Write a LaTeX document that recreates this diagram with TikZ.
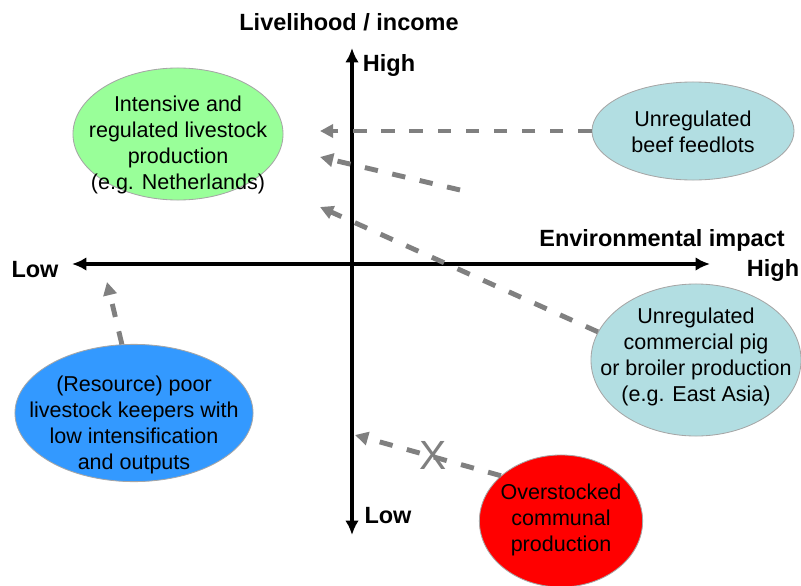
\documentclass[tikz,border=0pt]{standalone}
\usepackage{fontspec}
\setmainfont{Liberation Sans}
\usetikzlibrary{shapes.geometric,arrows.meta}

\definecolor{paleGreen}{RGB}{153,255,153}
\definecolor{paleBlue}{RGB}{178,222,226}
\definecolor{keeperBlue}{RGB}{51,153,255}

\begin{document}
\begin{tikzpicture}[x=0.025cm,y=-0.025cm,
    blob/.style={ellipse,draw=gray!70,line width=0.6pt,inner sep=0pt},
    blobtext/.style={align=center,font=\fontsize{15.3}{18.4}\selectfont},
    axis/.style={line width=2.5pt,{Latex[length=0.36cm,width=0.34cm]}-{Latex[length=0.36cm,width=0.34cm]}},
    trend/.style={draw=gray,line width=3.5pt,dash pattern=on 9.5pt off 10.5pt,-{Triangle[length=0.33cm,width=0.33cm]}},
    axislabel/.style={font=\fontsize{16.7}{20}\selectfont\bfseries}]

                \useasboundingbox (0,0) rectangle (801,585);

                % axes
                \coordinate (axisTop) at (352,48);
                \coordinate (axisBottom) at (352,535);
                \coordinate (axisLeft) at (72,264);
                \coordinate (axisRight) at (710,264);

                \draw[axis] (axisBottom) -- (axisTop);
                \draw[axis] (axisLeft) -- (axisRight);

                \node[axislabel] (income) at (349,22) {Livelihood / income};
                \node[axislabel] (incomeHigh) at (389,65) {High};
                \node[axislabel] (incomeLow) at (388,516) {Low};
                \node[axislabel] (impact) at (662,240) {Environmental impact};
                \node[axislabel] (impactLow) at (35,270) {Low};
                \node[axislabel] (impactHigh) at (773,270) {High};

                % production systems
                \node[blob,fill=paleGreen,minimum width=5.25cm,minimum height=3.3cm] (intensive) at (178,134) {};
                \node[blobtext] (intensiveText) at (178,145) {Intensive and\\regulated livestock\\production\\(e.g. Netherlands)};

                \node[blob,fill=paleBlue,minimum width=5.05cm,minimum height=2.45cm] (feedlots) at (693,131) {};
                \node[blobtext] (feedlotsText) at (693,132) {Unregulated\\beef feedlots};

                \node[blob,fill=paleBlue,minimum width=5.25cm,minimum height=3.8cm] (pigBroiler) at (696,360) {};
                \node[blobtext] (pigBroilerText) at (696,357) {Unregulated\\commercial pig\\or broiler production\\(e.g. East Asia)};

                \node[blob,fill=keeperBlue,minimum width=5.95cm,minimum height=3.43cm] (poorKeepers) at (134,413) {};
                \node[blobtext] (poorKeepersText) at (134,425) {(Resource) poor\\livestock keepers with\\low intensification\\and outputs};

                \node[blob,fill=red,minimum width=4.08cm,minimum height=3.3cm] (communal) at (561,521) {};
                \node[blobtext] (communalText) at (561,520) {Overstocked\\communal\\production};

                % shifts
                \coordinate (feedlotsEnd) at (320,131);
                \coordinate (middleStart) at (460,190);
                \coordinate (middleEnd) at (320,157);
                \coordinate (pigEnd) at (320,207);
                \coordinate (keepersEnd) at (107,282);
                \coordinate (communalEnd) at (355,435);

                \draw[trend] (feedlots.west) -- (feedlotsEnd);
                \draw[trend] (middleStart) -- (middleEnd);
                \draw[trend] (pigBroiler.164) -- (pigEnd);
                \draw[trend] (poorKeepers.100) -- (keepersEnd);
                \draw[trend] (communal.143) -- (communalEnd);

                \node[text=gray,font=\fontsize{29}{30}\selectfont] (blocked) at (433,455) {X};
\end{tikzpicture}
\end{document}
